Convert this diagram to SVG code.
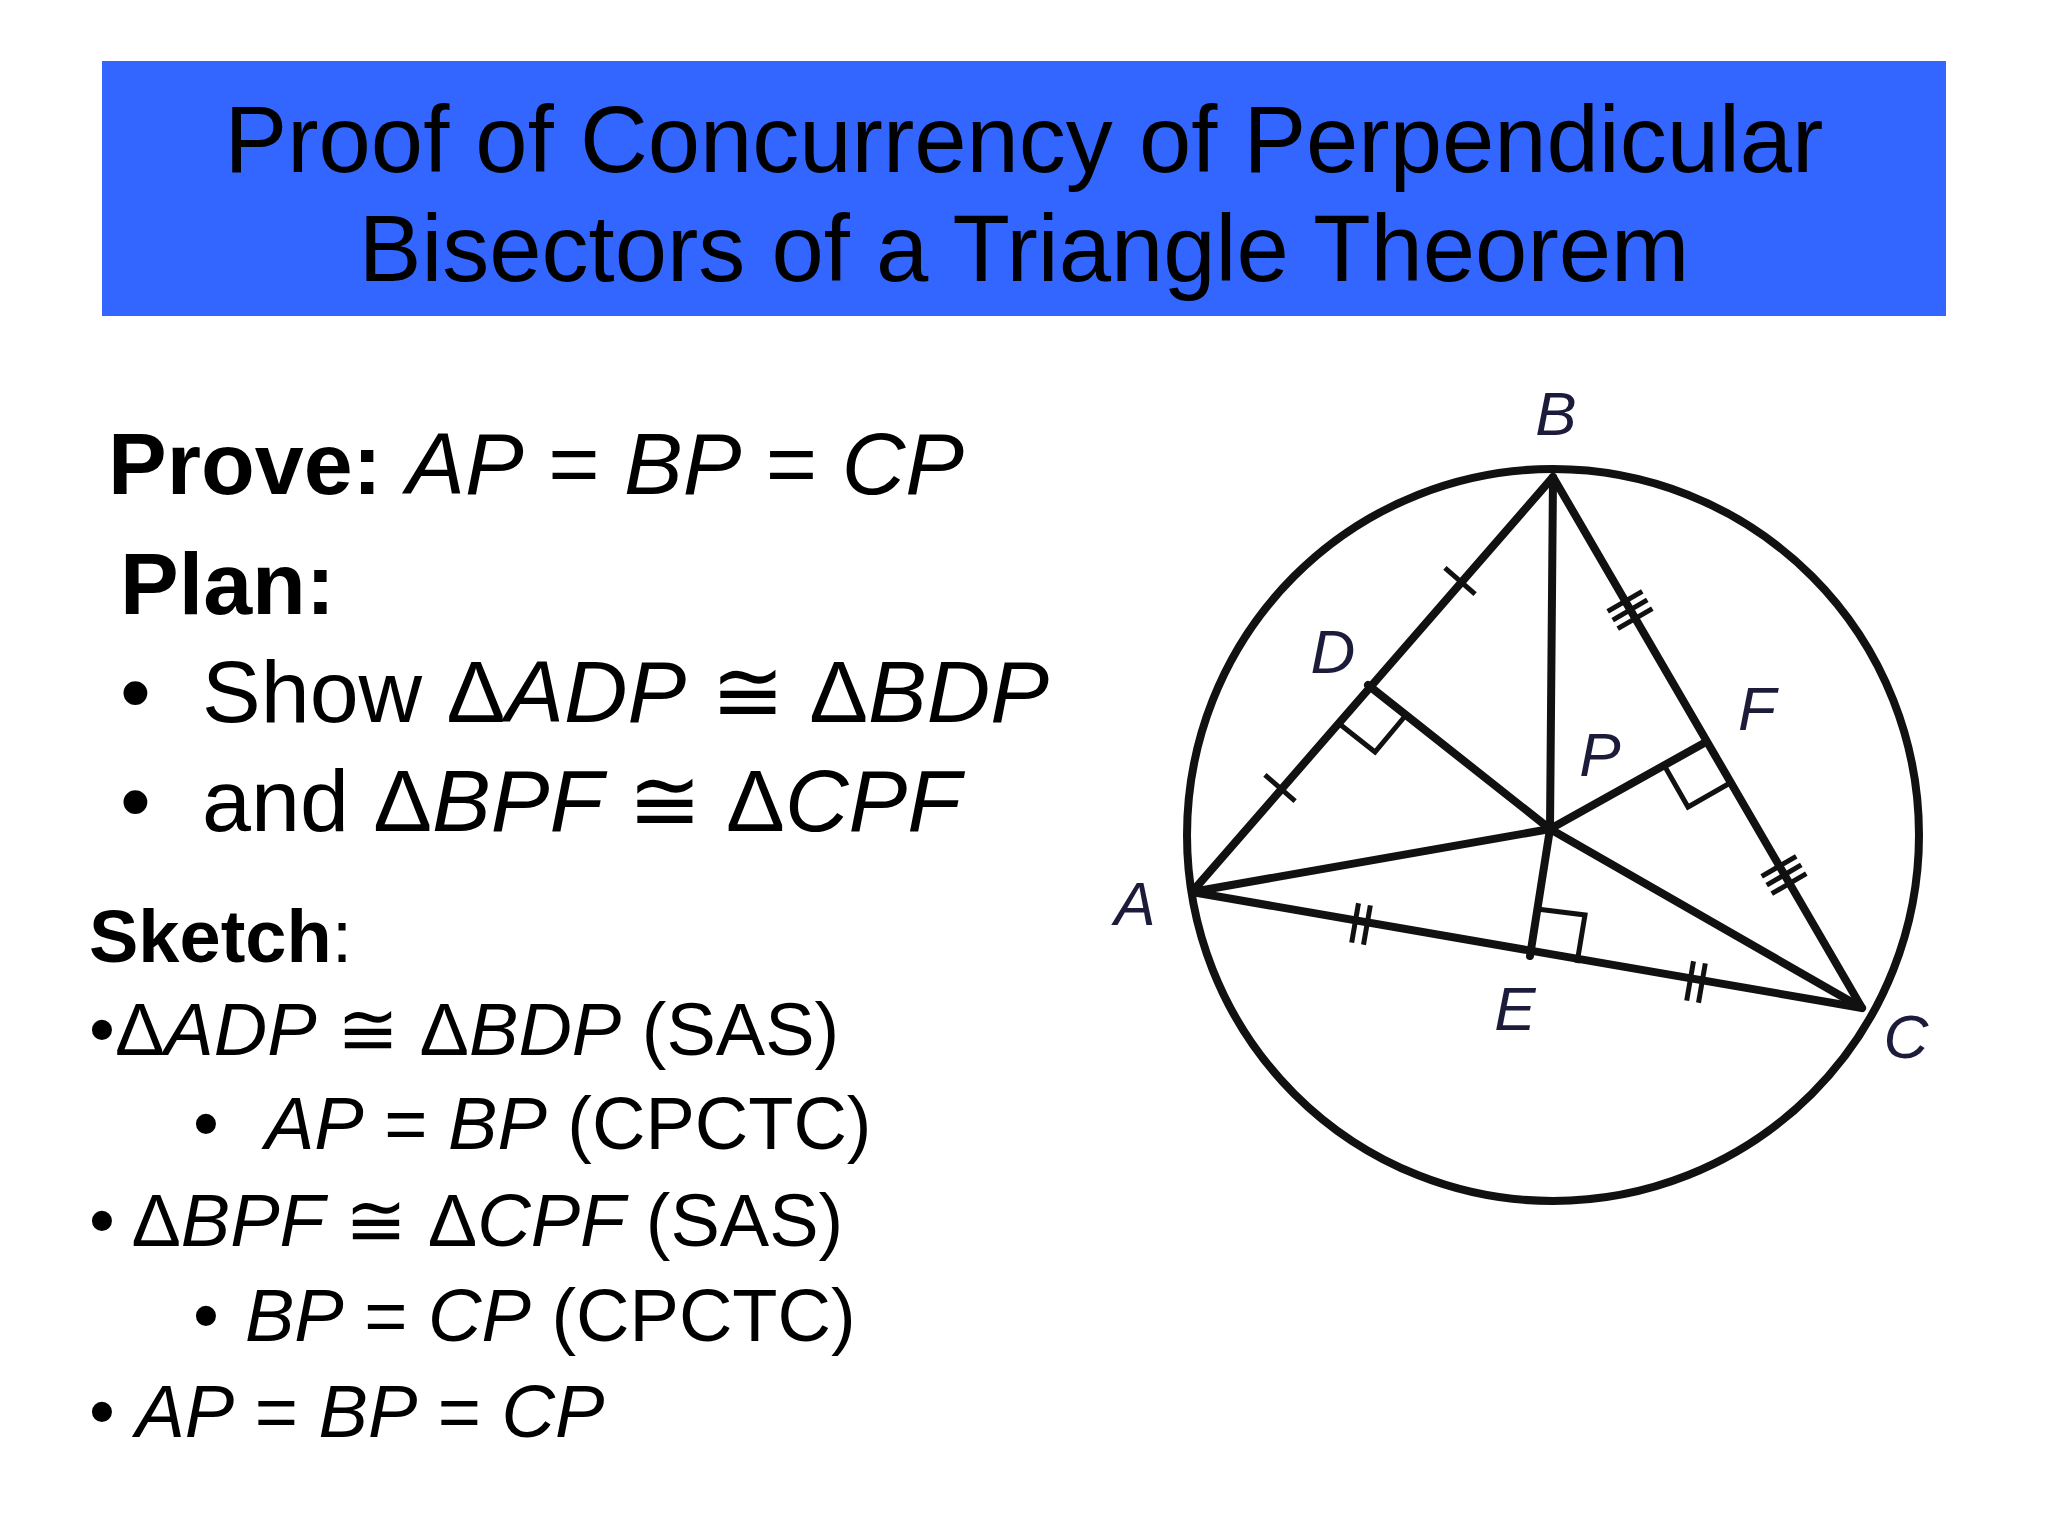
<svg xmlns="http://www.w3.org/2000/svg" width="2048" height="1536" viewBox="0 0 2048 1536">
<style>
text{font-family:"Liberation Sans",Arial,sans-serif;fill:#000}
.i{font-style:italic}
.b{font-weight:bold}
.t{font-size:94px}
.big{font-size:88px}
.sm{font-size:74px}
.lbl{font-size:62px;font-style:italic;fill:#1c1c3a}
.ln{stroke:#111;stroke-width:8;fill:none;stroke-linecap:round}
.tk{stroke:#111;stroke-width:5;fill:none}
</style>
<rect width="2048" height="1536" fill="#fff"/>
<g id="title">
<rect x="102" y="61" width="1844" height="255" fill="#3366ff"/>
<text class="t" x="1024" y="172" text-anchor="middle">Proof of Concurrency of Perpendicular</text>
<text class="t" x="1024" y="281" text-anchor="middle">Bisectors of a Triangle Theorem</text>
</g>
<g id="text">
<text class="big" x="108" y="494"><tspan class="b">Prove: </tspan><tspan class="i">AP</tspan> = <tspan class="i">BP</tspan> = <tspan class="i">CP</tspan></text>
<text class="big b" x="120" y="614">Plan:</text>
<text class="big" x="120" y="722">•</text>
<text class="big" x="202" y="722">Show Δ<tspan class="i">ADP</tspan> ≅ Δ<tspan class="i">BDP</tspan></text>
<text class="big" x="120" y="831">•</text>
<text class="big" x="202" y="831">and Δ<tspan class="i">BPF</tspan> ≅ Δ<tspan class="i">CPF</tspan></text>
<text class="sm" x="89" y="962"><tspan class="b">Sketch</tspan>:</text>
<text class="sm" x="89" y="1055">•Δ<tspan class="i">ADP</tspan> ≅ Δ<tspan class="i">BDP</tspan> (SAS)</text>
<text class="sm" x="193" y="1149">•</text>
<text class="sm" x="265" y="1149"><tspan class="i">AP</tspan> = <tspan class="i">BP</tspan> (CPCTC)</text>
<text class="sm" x="89" y="1246">• Δ<tspan class="i">BPF</tspan> ≅ Δ<tspan class="i">CPF</tspan> (SAS)</text>
<text class="sm" x="193" y="1341">•</text>
<text class="sm" x="245" y="1341"><tspan class="i">BP</tspan> = <tspan class="i">CP</tspan> (CPCTC)</text>
<text class="sm" x="89" y="1437">• <tspan class="i">AP</tspan> = <tspan class="i">BP</tspan> = <tspan class="i">CP</tspan></text>
</g>
<g id="figure">
<circle class="ln" cx="1553" cy="835" r="366"/>
<polygon class="ln" points="1192,892 1553,477 1862,1008" stroke-linejoin="round"/>
<line class="ln" x1="1553" y1="477" x2="1550" y2="829"/>
<line class="ln" x1="1192" y1="892" x2="1550" y2="829"/>
<line class="ln" x1="1862" y1="1008" x2="1550" y2="829"/>
<line class="ln" x1="1368" y1="685" x2="1550" y2="829"/>
<line class="ln" x1="1706" y1="742" x2="1550" y2="829"/>
<line class="ln" x1="1530" y1="956" x2="1550" y2="829"/>
<polyline class="tk" points="1337,722 1375,752 1406,715"/>
<polyline class="tk" points="1730,783 1688,807 1664,765"/>
<polyline class="tk" points="1577,963 1585,915 1537,909"/>
<g transform="translate(1280,788) rotate(-49)"><line class="tk" x1="0" y1="-20" x2="0" y2="20"/></g>
<g transform="translate(1460,581) rotate(-49)"><line class="tk" x1="0" y1="-20" x2="0" y2="20"/></g>
<g transform="translate(1630,610) rotate(59.8)"><line class="tk" x1="-10" y1="-20" x2="-10" y2="20"/><line class="tk" x1="0" y1="-20" x2="0" y2="20"/><line class="tk" x1="10" y1="-20" x2="10" y2="20"/></g>
<g transform="translate(1784,875) rotate(59.8)"><line class="tk" x1="-10" y1="-20" x2="-10" y2="20"/><line class="tk" x1="0" y1="-20" x2="0" y2="20"/><line class="tk" x1="10" y1="-20" x2="10" y2="20"/></g>
<g transform="translate(1361,924) rotate(9.8)"><line class="tk" x1="-6" y1="-20" x2="-6" y2="20"/><line class="tk" x1="6" y1="-20" x2="6" y2="20"/></g>
<g transform="translate(1696,982) rotate(9.8)"><line class="tk" x1="-6" y1="-20" x2="-6" y2="20"/><line class="tk" x1="6" y1="-20" x2="6" y2="20"/></g>
<text class="lbl" x="1556" y="435" text-anchor="middle">B</text>
<text class="lbl" x="1135" y="925" text-anchor="middle">A</text>
<text class="lbl" x="1906" y="1058" text-anchor="middle">C</text>
<text class="lbl" x="1333" y="673" text-anchor="middle">D</text>
<text class="lbl" x="1757" y="730" text-anchor="middle">F</text>
<text class="lbl" x="1600" y="776" text-anchor="middle">P</text>
<text class="lbl" x="1515" y="1030" text-anchor="middle">E</text>
</g>
</svg>
